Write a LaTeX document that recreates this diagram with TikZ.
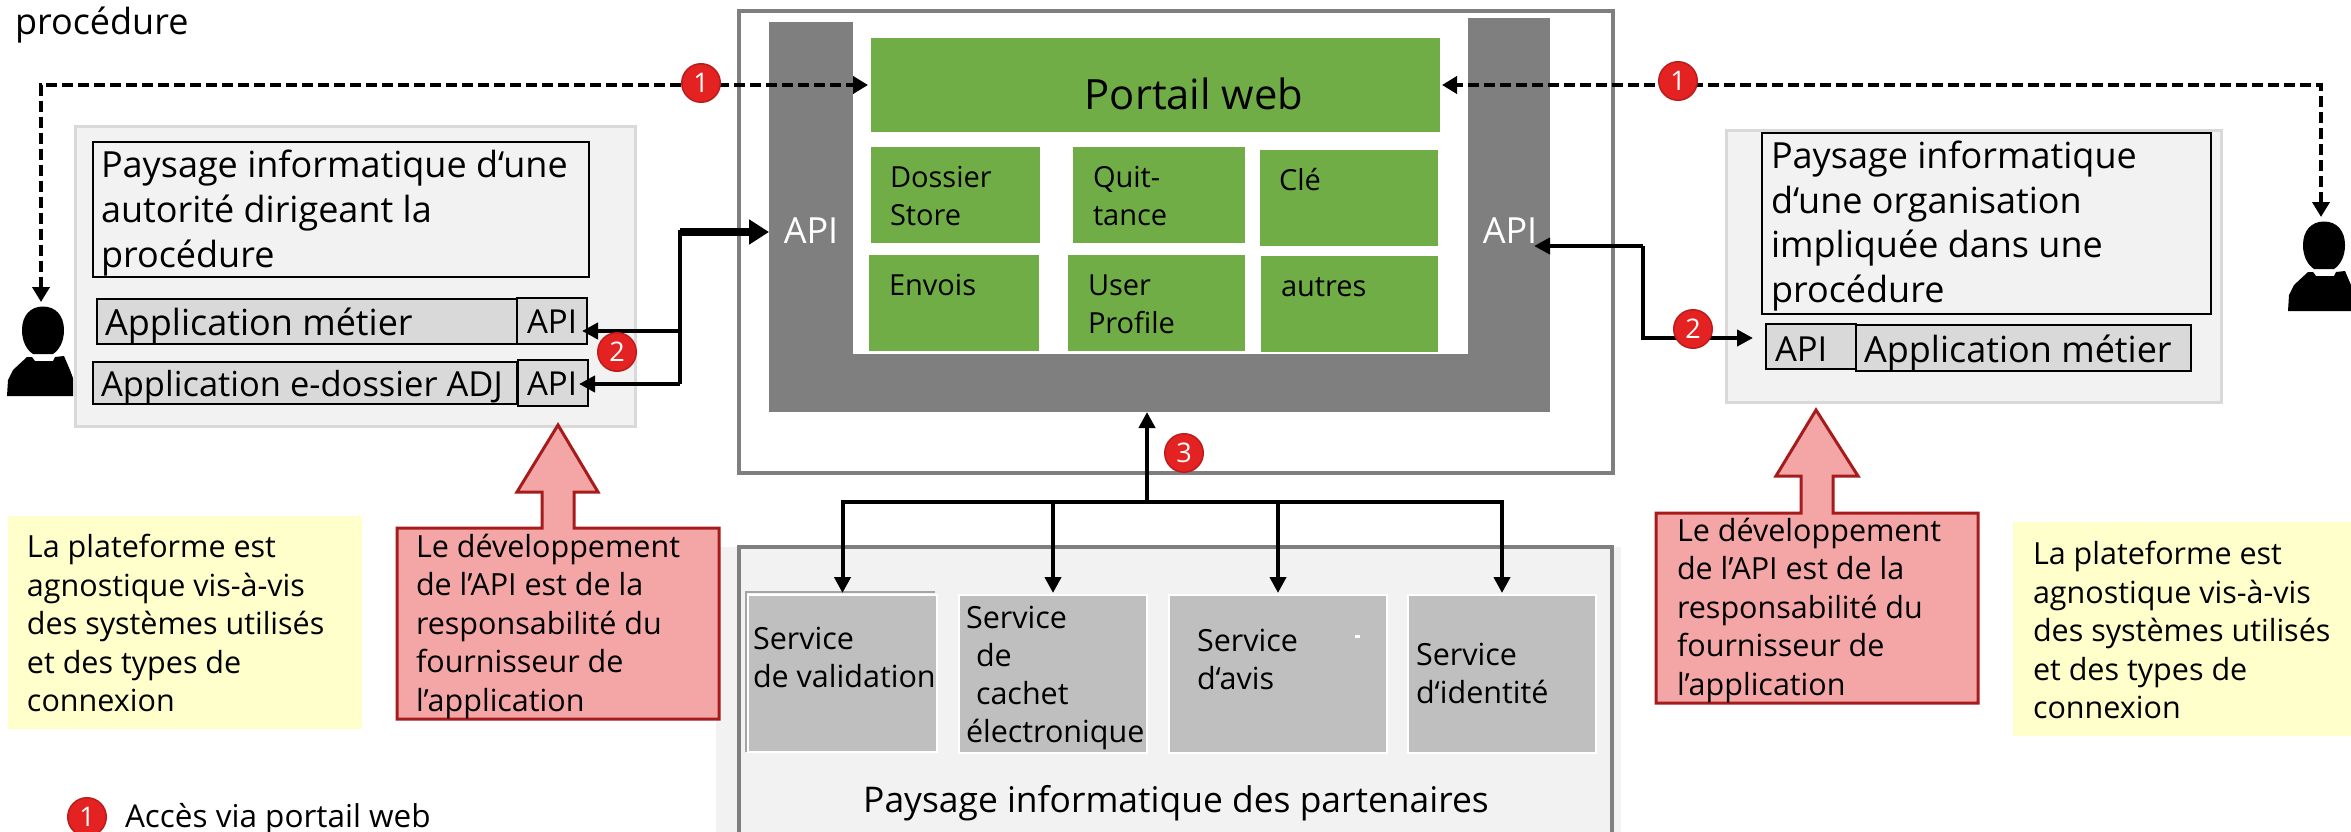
\documentclass[tikz,border=0pt]{standalone}
\usepackage{fontspec}
\setmainfont{Open Sans}
\usetikzlibrary{arrows.meta,calc}
\definecolor{cgreen}{HTML}{70AD47}
\definecolor{cgrey}{HTML}{7F7F7F}
\definecolor{cpale}{HTML}{F2F2F2}
\definecolor{cpaleb}{HTML}{D9D9D9}
\definecolor{csvc}{HTML}{BFBFBF}
\definecolor{cyel}{HTML}{FFFFCC}
\definecolor{cred}{HTML}{F4A6A6}
\definecolor{credb}{HTML}{A61C1C}
\definecolor{cbadge}{HTML}{E52222}
\definecolor{cbadgeb}{HTML}{BC1C1C}
\tikzset{
  boxbase/.style={rectangle,inner sep=0pt,outer sep=0pt},
  paysage/.style={fill=cpale,draw=cpaleb,line width=3pt},
  appbox/.style={fill=cpaleb,draw=black,line width=2pt},
  titlebox/.style={fill=cpale,draw=black,line width=2pt},
  frame/.style={draw=cgrey,line width=3.5pt},
  apibar/.style={fill=cgrey},
  green/.style={fill=cgreen},
  svc/.style={fill=csvc,draw=white,line width=2pt},
  yellow/.style={fill=cyel},
  txt/.style={inner sep=0pt,outer sep=0pt,anchor=west,align=left,text=black},
  tsmall/.style={font=\fontsize{30.5}{38.5}\selectfont},
  tmed/.style={font=\fontsize{36}{44.6}\selectfont},
  tapi/.style={font=\fontsize{33}{40}\selectfont},
  tgreen/.style={font=\fontsize{29}{38}\selectfont},
  tsvc/.style={font=\fontsize{30.5}{38}\selectfont},
  badge/.style={circle,minimum size=38.5pt,inner sep=0pt,fill=cbadge,draw=cbadgeb,line width=1.5pt,text=white,font=\fontsize{27}{27}\selectfont},
  conn/.style={line width=4pt,-{Triangle[length=16pt,width=16pt]}},
  dashconn/.style={line width=3.8pt,dash pattern=on 11pt off 5pt},
  callout/.style={fill=cred,draw=credb,line width=3pt},
}
\newcommand\bx[6]{%
  \pgfmathsetmacro\bxW{#5-#3}\pgfmathsetmacro\bxH{#6-#4}%
  \pgfmathsetmacro\bxX{(#3+#5)/2}\pgfmathsetmacro\bxY{(#4+#6)/2}%
  \node[boxbase,#2,minimum width=\bxW pt,minimum height=\bxH pt] (#1) at (\bxX,\bxY) {};}
\newcommand\tx[5]{\node[txt,#2] (#1) at (#3,#4) {#5};}
\newcommand\personshape[1]{%
  \begin{scope}[shift={(#1,0)}]
    \fill[black] (36,306.5) .. controls (49,306.5) and (57,316) .. (57,330)
      .. controls (57,342) and (52,350) .. (46,354) -- (26,354)
      .. controls (20,350) and (15,342) .. (15,330)
      .. controls (15,316) and (23,306.5) .. (36,306.5) -- cycle;
    \fill[black] (20,357) -- (25,357) -- (28,361) -- (46,361) -- (48,357) -- (57,356)
      -- (63,370) -- (66,378) -- (66,396) -- (0,396) -- (1,380) -- (6,370) -- cycle;
  \end{scope}}
\begin{document}
\begin{tikzpicture}[x=1pt,y=-1pt]
\useasboundingbox (0,0) rectangle (2351,832);
\fill[white] (0,0) rectangle (2351,832);

% partners background and frame
\bx{partbg}{fill=cpale}{716}{547}{1621}{860}
\bx{partfr}{frame}{739}{547}{1612}{860}

% central frame and API band
\bx{outer}{frame}{739}{11}{1613}{473}
\bx{barL}{apibar}{769}{22}{853}{412}
\bx{barR}{apibar}{1468}{18}{1550}{412}
\bx{barB}{apibar}{769}{354}{1550}{412}

% portal modules
\bx{portail}{green}{871}{38}{1440}{132}
\bx{mDossier}{green}{871}{147}{1040}{243}
\bx{mQuit}{green}{1073}{147}{1245}{243}
\bx{mCle}{green}{1260}{150}{1438}{246}
\bx{mEnvois}{green}{869}{255}{1039}{351}
\bx{mUser}{green}{1068}{255}{1245}{351}
\bx{mAutres}{green}{1261}{256}{1438}{352}
\node[txt,font=\fontsize{41.7}{42}\selectfont,anchor=center] (tPortail) at (1194,94) {Portail web};
\tx{tDossier}{tgreen}{890}{196}{Dossier\\Store}
\tx{tQuit}{tgreen}{1093}{196}{Quit-\\tance}
\tx{tCle}{tgreen}{1279}{180}{Clé}
\tx{tEnvois}{tgreen}{889}{285}{Envois}
\tx{tUser}{tgreen}{1088}{304}{User\\Profile}
\tx{tAutres}{tgreen}{1281}{287}{autres}
\node[txt,tmed,anchor=center,text=white] (tApiL) at (811,231) {API};
\node[txt,tmed,anchor=center,text=white] (tApiR) at (1510,231) {API};

% left landscape
\bx{leftbox}{paysage}{75}{127}{635}{426}
\bx{leftTitle}{titlebox}{93}{142}{589}{277}
\tx{tLeftTitle}{tmed}{101}{213}{Paysage informatique d‘une\\autorité dirigeant la\\procédure}
\bx{appL}{appbox}{97}{299}{517}{344}
\bx{apiL}{appbox}{517}{298}{587}{344}
\bx{appD}{appbox}{93}{362}{517}{404}
\bx{apiD}{appbox}{518}{360}{588}{406}
\tx{tAppL}{tmed}{105}{326}{Application métier}
\tx{tAppD}{font=\fontsize{34.5}{40}\selectfont}{101}{388}{Application e-dossier ADJ}
\node[txt,tapi,anchor=center] (tApiA) at (552,322) {API};
\node[txt,tapi,anchor=center] (tApiD) at (552,384) {API};

% right landscape
\bx{rightbox}{paysage}{1726}{131}{2221}{402}
\bx{rightTitle}{titlebox}{1762}{133}{2211}{314}
\tx{tRightTitle}{tmed}{1771}{226}{Paysage informatique\\d‘une organisation\\impliquée dans une\\procédure}
\bx{apiRb}{appbox}{1766}{324}{1856}{369}
\bx{appR}{appbox}{1856}{325}{2191}{371}
\tx{tApiRb}{font=\fontsize{34.5}{40}\selectfont}{1775}{349}{API}
\tx{tAppR}{tmed}{1864}{353}{Application métier}

% persons
\bx{persL}{}{7}{306}{75}{396}
\bx{persR}{}{2288}{222}{2354}{311}
\personshape{7}
\begin{scope}[shift={(0,-85)}]\personshape{2288}\end{scope}

% services
\draw[color=cgrey!70,line width=2pt] (746,752) -- (746,592) -- (935,592);
\bx{s1}{svc}{748}{595}{937}{752}
\bx{s2}{svc}{959}{595}{1147}{753}
\bx{s3}{svc}{1169}{595}{1387}{753}
\bx{s4}{svc}{1408}{595}{1596}{753}
\tx{tS1}{tsvc}{753}{657}{Service\\de validation}
\tx{tS2}{tsvc}{966}{678}{Service\\\hspace*{10pt}de\\\hspace*{10pt}cachet\\électronique}
\tx{tS3}{tsvc}{1197}{659}{Service\\d‘avis}
\tx{tS4}{tsvc}{1416}{673}{Service\\d‘identité}
\fill[white] (1355,635) rectangle (1360,638);
\node[txt,font=\fontsize{35.4}{36}\selectfont,anchor=center] (tPart) at (1176,803) {Paysage informatique des partenaires};

% notes
\bx{noteL}{yellow}{8}{516}{362}{729}
\bx{noteR}{yellow}{2013}{522}{2360}{736}
\tx{tNoteL}{tsmall}{27}{623}{La plateforme est\\agnostique vis-à-vis\\des systèmes utilisés\\et des types de\\connexion}
\tx{tNoteR}{tsmall}{2033}{630}{La plateforme est\\agnostique vis-à-vis\\des systèmes utilisés\\et des types de\\connexion}

% callouts
\draw[callout,line join=miter] (558,425) -- (598,492) -- (574,492) -- (574,528) -- (719,528) -- (719,719) -- (397,719) -- (397,528) -- (542,528) -- (542,492) -- (517,492) -- cycle;
\draw[callout,line join=miter] (1816,410) -- (1858,476) -- (1833,476) -- (1833,513) -- (1978,513) -- (1978,703) -- (1656,703) -- (1656,513) -- (1801,513) -- (1801,476) -- (1776,476) -- cycle;
\tx{tCallL}{tsmall}{416}{626}{Le développement\\de l’API est de la\\responsabilité du\\fournisseur de\\l’application}
\tx{tCallR}{tsmall}{1677}{610}{Le développement\\de l’API est de la\\responsabilité du\\fournisseur de\\l’application}

% connectors
\coordinate (jL) at (680,232);
\coordinate (jR) at (1643,246);
\coordinate (jB) at (1147,502);
\coordinate (tipR) at (1536,246);
\coordinate (yA) at (0,331);
\coordinate (yD) at (0,384);
\draw[dashconn,{Triangle[length=15pt,width=17pt]}-{Triangle[length=15pt,width=17pt]},shorten >=3pt,shorten <=4pt] (persL.north) |- (portail.west);
\draw[dashconn,{Triangle[length=15pt,width=17pt]}-{Triangle[length=15pt,width=17pt]},shorten >=2pt,shorten <=5pt] (persR.north) |- (portail.east);
\draw[line width=8pt,-{Triangle[length=20pt,width=24pt]}] (jL) -- (jL -| barL.west);
\draw[line width=4pt] ($(jL)+(0,-2)$) -- (jL |- yD);
\draw[conn,shorten >=-5pt] (jL |- yA) -- (apiL.east |- yA);
\draw[conn,shorten >=-9pt] (jL |- yD) -- (apiD.east |- yD);
\draw[conn,shorten >=-2pt] (jR) -- (tipR);
\draw[line width=4pt] (jR) |- (1693,338) coordinate (jR2);
\draw[conn] (jR2) -- (1753,338);
\draw[conn] (jB) -- (jB |- barB.south);
\draw[conn,shorten >=2pt] (jB) -| (s1.north);
\draw[conn,shorten >=2pt] (jB) -| (s2.north);
\draw[conn,shorten >=2pt] (jB) -| (s3.north);
\draw[conn,shorten >=2pt] (jB) -| (s4.north);

% badges
\node[badge] (b1L) at (701,83) {1};
\node[badge] (b1R) at (1678,81) {1};
\node[badge] (b2L) at (617,352) {2};
\node[badge] (b2R) at (1693,329) {2};
\node[badge] (b3) at (1184,453) {3};
\node[badge] (b1K) at (87,817) {1};

% top-left and legend
\tx{tTop}{font=\fontsize{36}{36}\selectfont}{15}{25}{procédure}
\tx{tLeg}{font=\fontsize{31.5}{38}\selectfont}{125}{819}{Accès via portail web}
\end{tikzpicture}
\end{document}
